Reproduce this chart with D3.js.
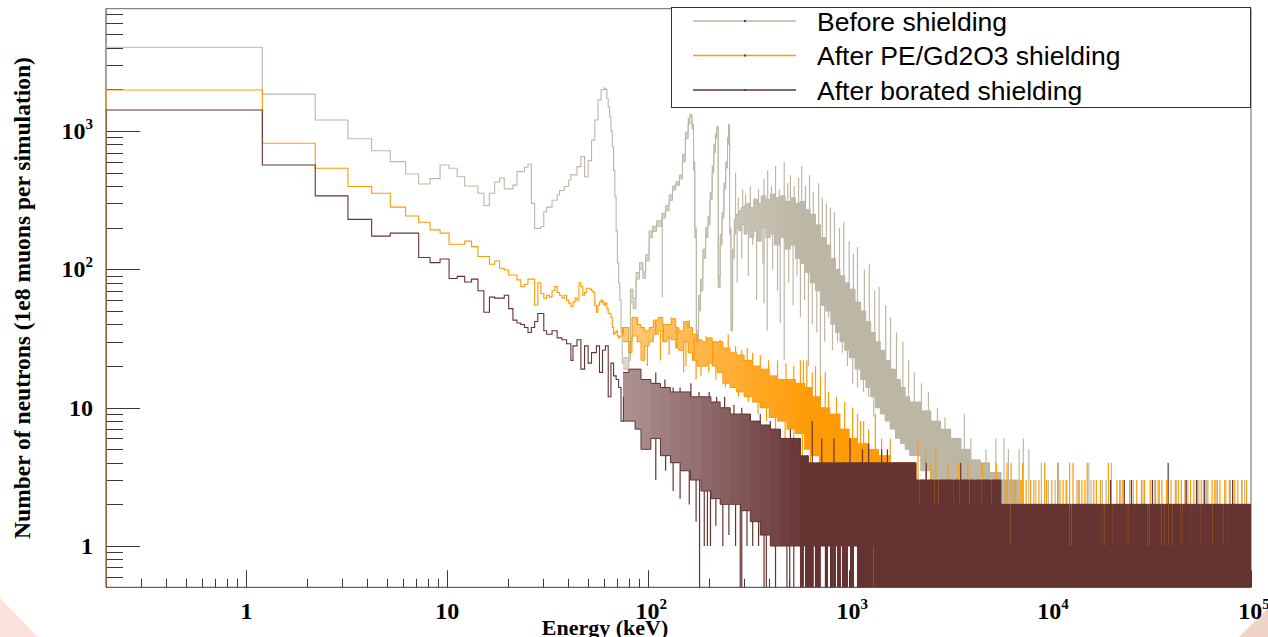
<!DOCTYPE html>
<html>
<head>
<meta charset="utf-8">
<script src="https://cdn.jsdelivr.net/npm/d3@7"></script>
<style>
  html, body { margin: 0; padding: 0; background: #ffffff; }
  svg { display: block; }
</style>
</head>
<body>
<svg id="chart" width="1268" height="637"></svg>
<script>
// ---------------------------------------------------------------------------
// Neutron energy spectra, before and after two shielding configurations.
// ---------------------------------------------------------------------------

// Low-energy part of every spectrum: 1 keV wide bins starting at 0.2 keV.
const binStart = 0.2;
const binWidth = 1;

const seriesNames = ["Before shielding", "After PE/Gd2O3 shielding", "After borated shielding"];

const beforeLow = [
  4035, 1850, 1203, 881, 721, 601, 490, 414, 453, 569,
  538, 467, 401, 401, 355, 290, 355, 428, 458, 382,
  382, 407, 509, 509, 547, 578, 300, 198, 198, 204,
  261, 282, 282, 316, 316, 345, 372, 372, 397, 397,
  443, 482, 482, 482, 553, 553, 655, 655, 467, 467,
  612, 612, 860, 860, 1203, 1203, 1680, 1680, 1988, 1988,
  2050, 2000, 1720, 1500, 1270, 1000, 770, 520, 336, 190,
  111, 80, 60, 35, 21
];
const peLow = [
  1983, 816, 538, 397, 355, 282, 243, 219, 193, 183,
  152, 152, 160, 146, 124, 124, 109, 115, 102, 99,
  91, 91, 84, 75, 78, 85, 85, 55, 80, 67,
  62, 65, 63, 70, 75, 68, 65, 62, 65, 60,
  57, 54, 58, 62, 60, 80, 75, 65, 68, 73,
  73, 72, 70, 68, 55, 49, 55, 58, 60, 58,
  55, 57, 52, 48, 48, 45, 38, 34, 35, 36,
  33, 32, 33, 33, 38
];
const boratedLow = [
  1422, 569, 340, 230, 174, 183, 183, 122, 112, 119,
  86, 89, 81, 85, 70, 49, 63, 62, 62, 65,
  52, 43, 41, 40, 38, 35, 38, 42, 48, 48,
  36, 34, 34, 36, 36, 32, 32, 31, 31, 29,
  29, 22, 28, 28, 31, 31, 19, 19, 28, 28,
  21, 21, 25, 25, 25, 28, 28, 18, 18, 26,
  26, 28, 28, 12, 12, 21, 21, 17, 17, 16,
  16, 14, 14, 8, 8
];

// Above 75.2 keV the bins are narrower than the drawing resolution, so each
// spectrum is given as its envelope: [energy (keV), lowest, highest count],
// every entry holding until the next one (the last one up to 1e5 keV).
const beforeBand = [
  [75.2, 19, 23], [80, 22, 28], [81.5, 58, 72], [84, 52, 62], [87, 85, 95],
  [90.5, 100, 112], [94, 86, 96], [97, 115, 128], [101, 170, 190], [105, 188, 205],
  [110, 205, 225], [117, 235, 255], [122, 265, 290], [127, 315, 345], [132, 375, 400],
  [137, 405, 430], [143, 450, 480], [148, 600, 680], [153, 880, 980], [158, 1120, 1240],
  [161, 1260, 1320], [165, 1040, 1120], [168, 520, 600], [170.5, 170, 200], [173.5, 30, 36],
  [178, 50, 65], [182, 70, 85], [187, 120, 140], [193, 170, 200], [198, 210, 240],
  [203, 320, 360], [208, 500, 560], [212, 700, 800], [216, 880, 960], [219, 1040, 1080],
  [223, 74, 90], [228, 150, 180], [233, 235, 260], [238, 380, 420], [243, 540, 600],
  [248, 800, 900], [251, 1080, 1120], [254, 180, 200], [258, 36, 44], [263, 120, 140],
  [268, 180, 230], [273, 200, 250], [282, 190, 265], [290, 210, 280], [300, 180, 290],
  [310, 200, 300], [320, 170, 280], [335, 190, 320], [350, 160, 300], [365, 200, 340],
  [385, 170, 320], [405, 180, 350], [425, 150, 330], [450, 170, 340], [480, 140, 310],
  [510, 150, 330], [540, 120, 300], [570, 110, 310], [605, 95, 270], [640, 80, 250],
  [680, 70, 210], [720, 55, 170], [765, 50, 150], [810, 40, 120], [855, 35, 100],
  [900, 30, 90], [950, 26, 80], [1000, 23, 72], [1070, 19, 58], [1140, 16, 50],
  [1210, 14, 42], [1280, 12, 35], [1350, 10, 30], [1430, 9, 26], [1510, 8, 22],
  [1600, 7, 19], [1700, 6, 16], [1800, 5.5, 14], [1900, 5, 12], [2000, 4.5, 11],
  [2270, 3.5, 9.5], [2550, 3, 8], [2850, 2.5, 7], [3200, 2, 6], [3600, 2, 5],
  [4000, 2, 4.2], [4500, 2, 4], [5000, 2, 3.4], [5700, 1, 3], [7000, 1, 2]
];
const peBand = [
  [75.2, 30, 38], [80, 25, 30], [83, 33, 45], [88, 30, 40], [92, 22, 38],
  [96, 28, 36], [101, 30, 38], [106, 34, 43], [112, 36, 45], [118, 30, 40],
  [124, 32, 40], [130, 31, 44], [137, 27, 38], [142, 26, 36], [150, 30, 42],
  [158, 25, 38], [166, 22, 34], [175, 20, 31], [185, 20, 30], [196, 21, 32],
  [208, 20, 30], [220, 18, 30], [235, 15, 27], [255, 14, 25], [275, 13, 24],
  [300, 12, 22], [330, 11, 20], [360, 10, 19], [400, 8.5, 17], [440, 8, 16],
  [490, 7, 16], [540, 6.5, 15], [600, 5, 14], [650, 4.5, 12], [720, 4, 10],
  [800, 4, 9], [900, 3, 7], [1000, 3, 6], [1100, 2.5, 5.5], [1250, 2, 5],
  [1400, 2, 4.5], [1600, 2, 4], [2150, 1, 3], [5700, 1, 2]
];
const boratedBand = [
  [75.2, 8, 18], [80, 8, 19], [86, 7, 19], [92, 5, 16], [103, 6, 15],
  [115, 4.5, 14], [129, 4, 13], [144, 3.5, 13], [162, 3, 12], [183, 2.5, 12],
  [205, 2.2, 11], [228, 2, 10], [256, 2, 9], [287, 1.8, 9], [322, 1.5, 8],
  [361, 1.2, 7.5], [405, 1, 7], [454, 1, 6], [510, 1, 6], [572, 0, 4.5],
  [592, 1, 4.5], [606, 0, 4.5], [627, 0, 4], [663, 1, 4], [679, 0, 4],
  [719, 1, 4], [761, 0, 4], [780, 1, 4], [807, 0, 4], [826, 1, 4],
  [836, 0, 4], [855, 1, 4], [875, 0, 4], [905, 1, 4], [926, 0, 4],
  [981, 1, 4], [1015, 0, 4], [1051, 1, 4], [1100, 0, 4], [1165, 1, 4],
  [1178, 0, 4], [1310, 1, 4], [1325, 0, 4], [2150, 0, 3], [2220, 0, 2],
  [2245, 0, 3], [2420, 0, 2], [2450, 0, 3], [2650, 0, 2], [2680, 0, 3],
  [2760, 0, 2], [2795, 0, 3], [3300, 0, 2], [3340, 0, 3], [3530, 0, 2],
  [3570, 0, 3], [3940, 0, 2], [3990, 0, 3], [4200, 0, 2], [4250, 0, 3],
  [4520, 0, 2], [4570, 0, 3], [5070, 0, 2], [5130, 0, 3], [5690, 0, 2],
  [6331, 0, 1], [6410, 0, 2], [9380, 0, 1], [9490, 0, 2], [10400, 0, 1],
  [10520, 0, 2], [12430, 0, 1], [12580, 0, 2], [12710, 0, 1], [12860, 0, 2],
  [18200, 0, 1], [18410, 0, 2], [18590, 0, 1], [18800, 0, 2], [19780, 0, 1],
  [20010, 0, 2], [20240, 0, 1], [20480, 0, 2], [23780, 0, 1], [24050, 0, 2],
  [24320, 0, 1], [24600, 0, 2], [26300, 0, 1], [26600, 0, 2], [30300, 0, 1],
  [30650, 0, 2], [31000, 0, 1], [31360, 0, 2], [35700, 0, 1], [36100, 0, 2],
  [36960, 0, 1], [37380, 0, 2], [38720, 0, 1], [39160, 0, 2], [40510, 0, 1],
  [40980, 0, 2], [44480, 0, 1], [44990, 0, 2], [45500, 0, 1], [46020, 0, 2],
  [49500, 0, 1], [50070, 0, 2], [51200, 0, 1], [51790, 0, 2], [53600, 0, 1],
  [54210, 0, 2], [55500, 0, 1], [56140, 0, 2], [63900, 0, 1], [64630, 0, 2],
  [72800, 0, 1], [73640, 0, 2], [76300, 0, 1], [77180, 0, 2], [84700, 0, 1],
  [85670, 0, 2], [88700, 0, 1], [89720, 0, 2], [99500, 0, 1]
];

// Single-bin excursions outside the envelope: [energy (keV), count].
const beforeSpikes = [
  [117.5, 63], [272, 500], [277, 80], [281, 330], [292, 120], [295, 380], [305, 350],
  [315, 90], [322, 400], [331, 150], [338, 330], [346, 60], [354, 380], [372, 110],
  [377, 57], [377, 450], [391, 36], [393, 520], [410, 400], [416, 100], [430, 560],
  [440, 70], [449, 380], [454, 41], [475, 22], [475, 600], [495, 420], [500, 80],
  [510, 480], [526, 55], [533, 400], [550, 90], [560, 460], [572, 45], [580, 560],
  [600, 60], [606, 400], [627, 20], [635, 480], [655, 40], [663, 360], [690, 35],
  [705, 420], [719, 17], [735, 330], [755, 30], [770, 300], [790, 45], [807, 280],
  [826, 26], [845, 260], [875, 30], [895, 200], [926, 25], [940, 220], [980, 20],
  [1000, 160], [1040, 15], [1050, 130], [1100, 145], [1100, 14], [1178, 13],
  [1190, 100], [1250, 12], [1260, 110], [1325, 8.6], [1340, 70], [1410, 75],
  [1520, 55], [1607, 45], [1720, 35], [1850, 30], [1975, 22], [2110, 18],
  [2290, 15], [2480, 13], [2750, 10], [3000, 8.5], [3740, 9], [4030, 6],
  [4800, 5], [5370, 6], [5900, 6], [6200, 5], [6300, 3], [7010, 5], [7200, 3],
  [7360, 6], [7840, 5], [8500, 3], [9050, 4], [9800, 3], [10600, 3], [11000, 4],
  [12000, 3], [13600, 3], [14000, 3], [15600, 4], [16000, 3], [18200, 3], [19000, 3],
  [20200, 4], [22500, 3], [25500, 3], [26000, 3], [29000, 3], [33000, 3], [35000, 3],
  [42500, 3], [47000, 3], [48500, 3], [55000, 3], [60000, 3], [67000, 3], [75000, 3],
  [79000, 3], [90000, 3], [93000, 3]
];
const peSpikes = [
  [88.5, 45], [99, 20], [109, 42], [115, 22], [119, 40], [127, 24], [130, 45],
  [139, 38], [150, 18], [154, 20], [160, 43], [169, 32], [173, 16], [183, 17],
  [194, 33], [200, 18], [209, 30], [217, 16], [228, 31], [242, 14], [250, 34],
  [272, 28], [281, 12], [292, 26], [311, 27], [315, 11], [331, 25], [352, 9],
  [361, 24], [388, 8], [397, 22], [430, 7], [440, 22], [480, 6], [485, 21],
  [530, 20], [530, 5], [572, 22], [585, 4.5], [592, 22], [615, 22], [641, 4],
  [655, 18], [680, 20], [712, 3.5], [719, 17], [760, 18], [790, 13], [865, 12],
  [950, 11], [1040, 10], [1100, 9], [1139, 8], [1180, 8], [1250, 7], [1350, 9],
  [1450, 6], [1600, 6], [2200, 5.8], [2400, 5], [2550, 4], [2700, 5], [3100, 4],
  [3500, 4], [3900, 4], [4600, 4], [5400, 4], [6000, 3], [6100, 4], [6400, 4],
  [6600, 3], [6700, 3], [7100, 3], [7300, 4], [7600, 3], [8000, 3], [8300, 3],
  [8800, 3], [9400, 4], [9600, 3], [10200, 3], [10900, 4], [11200, 3], [11600, 3],
  [12100, 3], [12500, 4], [13000, 4], [13800, 3], [14400, 3], [14900, 3], [15300, 4],
  [16500, 3], [17000, 3], [17800, 3], [19500, 4], [20000, 3], [21500, 3], [22200, 3],
  [23000, 3], [24900, 3], [27000, 3], [28500, 3], [29500, 3], [31500, 3], [33500, 3],
  [34500, 3], [36000, 3], [38000, 3], [40000, 3], [42000, 3], [43500, 3], [45000, 3],
  [47000, 3], [50000, 3], [52000, 3], [54000, 3], [56500, 3], [58000, 3], [61000, 3],
  [64000, 3], [66000, 3], [68000, 3], [70000, 3], [74000, 3], [78000, 3], [81000, 3],
  [83000, 3], [86000, 3], [90000, 3], [95000, 3]
];
const boratedSpikes = [
  [109, 3], [109, 18], [121, 16], [122, 3.5], [133, 2.5], [133, 14], [144, 2.2],
  [144, 14], [160, 2], [163, 15], [173, 1.5], [179, 13], [180, 0], [190, 1],
  [197, 1], [201, 13], [204, 1], [217, 1.4], [219, 12], [235, 1], [240, 12],
  [252, 1.2], [267, 10.5], [272, 1], [287, 0], [292, 0], [292, 10], [310, 1],
  [322, 9], [331, 1], [354, 1], [361, 9], [377, 0], [387, 0], [405, 8],
  [430, 0], [454, 7], [460, 1], [490, 0], [506, 0], [510, 7], [530, 0],
  [572, 6], [655, 8], [730, 6], [840, 6], [1010, 6], [1165, 5], [1250, 5.5],
  [1450, 5], [1550, 5], [2420, 4], [3590, 4], [20000, 3], [23400, 3], [25400, 3],
  [32300, 3], [38700, 4], [47600, 3], [53600, 3], [58800, 3], [81000, 3]
];

// Axis ticks
const xDecades = [1, 10, 100, 1000, 10000, 100000];
const yDecades = [1, 10, 100, 1000];

// ---------------------------------------------------------------------------
const series = [
  { name: seriesNames[0], low: beforeLow, band: beforeBand, spikes: beforeSpikes, color: "#bcb7a5" },
  { name: seriesNames[1], low: peLow, band: peBand, spikes: peSpikes, color: "#ff9b05" },
  { name: seriesNames[2], low: boratedLow, band: boratedBand, spikes: boratedSpikes, color: "#663333" }
];

const frame = { left: 106, right: 1251, top: 8.7, bottom: 587.3 };
const xMax = 1e5;

const x = d3.scaleLog().domain([0.2, xMax]).range([frame.left, frame.right]);
const y = d3.scaleLog().domain([0.503, 7670]).range([frame.bottom, frame.top]);
// empty bins fall below the frame and are clipped away
const yv = v => (v > 0 ? y(v) : frame.bottom + 40);

// How densely the fine bins cover their envelope: about one bin per pixel
// near 80 keV (a jagged line with gaps), many bins per pixel above ~0.6 MeV.
const coverage = e => Math.max(0.55, Math.min(1, 0.55 + 0.45 * Math.log10(e / 80) / Math.log10(7.5)));

const svg = d3.select("#chart");

// slide decoration in the lower corners
svg.append("polygon").attr("points", "0,598 0,637 38,637").attr("fill", "#fbe3dc");
svg.append("polygon").attr("points", "1268,608 1268,637 1239,637").attr("fill", "#f1d3c7");

// ---- axes (drawn first; the histograms overlay them) ----
const axisColor = "#3a3a3a";
const axes = svg.append("g").attr("stroke", axisColor).attr("stroke-width", 1).attr("fill", "none");

axes.append("line").attr("x1", frame.left).attr("x2", frame.right)
  .attr("y1", frame.top).attr("y2", frame.top).attr("stroke", "#666");
axes.append("line").attr("x1", frame.right).attr("x2", frame.right)
  .attr("y1", frame.top).attr("y2", frame.bottom).attr("stroke", "#666");
axes.append("line").attr("x1", frame.left).attr("x2", frame.right)
  .attr("y1", frame.bottom).attr("y2", frame.bottom);
axes.append("line").attr("x1", frame.left).attr("x2", frame.left)
  .attr("y1", frame.top).attr("y2", frame.bottom);

// x ticks: decades long, 2..9 short
const xMinor = [];
[0.1, 1, 10, 100, 1000, 10000].forEach(d => {
  for (let k = 2; k <= 9; k++) {
    const v = d * k;
    if (v >= 0.2 && v <= xMax) xMinor.push(v);
  }
});
xMinor.forEach(v => {
  const px = Math.round(x(v)) + 0.5;
  axes.append("line").attr("x1", px).attr("x2", px)
    .attr("y1", frame.bottom).attr("y2", frame.bottom - 8.5);
});
xDecades.forEach(v => {
  const px = Math.round(x(v)) + 0.5;
  axes.append("line").attr("x1", px).attr("x2", px)
    .attr("y1", frame.bottom).attr("y2", frame.bottom - 17);
});

// y ticks
const yMinor = [];
[0.1, 1, 10, 100, 1000].forEach(d => {
  for (let k = 2; k <= 9; k++) {
    const v = d * k;
    if (v >= 0.503 && v <= 7670) yMinor.push(v);
  }
});
yMinor.forEach(v => {
  const py = Math.round(y(v)) + 0.5;
  axes.append("line").attr("x1", frame.left).attr("x2", frame.left + 17)
    .attr("y1", py).attr("y2", py);
});
yDecades.forEach(v => {
  const py = Math.round(y(v)) + 0.5;
  axes.append("line").attr("x1", frame.left).attr("x2", frame.left + 34)
    .attr("y1", py).attr("y2", py);
});

// ---- tick labels and titles ----
const serif = "'Liberation Serif', 'Times New Roman', serif";
const labels = svg.append("g").attr("font-family", serif).attr("font-weight", "bold").attr("fill", "#000");

function powerLabel(sel, v) {
  const e = Math.round(Math.log10(v));
  if (e === 0) sel.text("1");
  else if (e === 1) sel.text("10");
  else {
    sel.append("tspan").text("10");
    sel.append("tspan").attr("dy", -10).attr("font-size", 15).text(String(e));
  }
}

xDecades.forEach(v => {
  const t = labels.append("text")
    .attr("x", x(v) + (v >= 100 ? 3 : 0)).attr("y", 619)
    .attr("font-size", 24).attr("text-anchor", "middle");
  powerLabel(t, v);
});
yDecades.forEach(v => {
  const t = labels.append("text")
    .attr("x", 93).attr("y", y(v) + 8)
    .attr("font-size", 24).attr("text-anchor", "end");
  powerLabel(t, v);
});

labels.append("text")
  .attr("transform", "translate(30,298) rotate(-90)")
  .attr("text-anchor", "middle").attr("font-size", 23.5)
  .text("Number of neutrons (1e8 muons per simulation)");
labels.append("text")
  .attr("x", 605).attr("y", 635).attr("text-anchor", "middle").attr("font-size", 22)
  .text("Energy (keV)");

// ---- histograms ----
svg.append("clipPath").attr("id", "plotClip").append("rect")
  .attr("x", frame.left).attr("y", frame.top)
  .attr("width", frame.right - frame.left).attr("height", frame.bottom - frame.top);
const plot = svg.append("g").attr("clip-path", "url(#plotClip)");

const stepLine = d3.line().x(d => x(d[0])).y(d => yv(d[1])).curve(d3.curveStepAfter);

series.forEach(s => {
  const g = plot.append("g");

  // step line through the 1 keV bins, joined to the start of the envelope
  let d = `M${x(binStart)},${frame.bottom}`;
  s.low.forEach((v, i) => {
    d += `V${yv(v)}H${x(binStart + (i + 1) * binWidth)}`;
  });
  const first = s.band[0];
  d += `V${(yv(first[1]) + yv(first[2])) / 2}`;
  g.append("path").attr("d", d)
    .attr("fill", "none").attr("stroke", s.color).attr("stroke-width", 1.1);

  // envelope of the fine bins: one block per entry, shaded by bin density
  const ends = s.band.slice(1).map(b => b[0]).concat([xMax]);
  g.selectAll("rect.env").data(s.band).join("rect")
    .attr("class", "env")
    .attr("x", d => x(d[0]))
    .attr("width", (d, i) => x(ends[i]) - x(d[0]))
    .attr("y", d => yv(d[2]))
    .attr("height", d => Math.max(0, yv(d[1]) - yv(d[2])))
    .attr("fill", s.color)
    .attr("fill-opacity", d => coverage(d[0]))
    .attr("shape-rendering", "crispEdges");

  // upper and lower edges of the envelope
  const last = s.band[s.band.length - 1];
  const hiPts = s.band.map(b => [b[0], b[2]]).concat([[xMax, last[2]]]);
  const loPts = s.band.map(b => [b[0], b[1]]).concat([[xMax, last[1]]]);
  g.append("path").attr("d", stepLine(hiPts))
    .attr("fill", "none").attr("stroke", s.color).attr("stroke-width", 1);
  g.append("path").attr("d", stepLine(loPts))
    .attr("fill", "none").attr("stroke", s.color).attr("stroke-width", 1);

  // isolated excursions
  const bandAt = e => {
    let cur = s.band[0];
    for (const b of s.band) { if (b[0] <= e) cur = b; else break; }
    return cur;
  };
  s.spikes.forEach(([e, v]) => {
    const b = bandAt(e);
    const edge = v > b[2] ? b[2] : b[1];
    g.append("line")
      .attr("x1", x(e)).attr("x2", x(e))
      .attr("y1", yv(edge)).attr("y2", yv(v))
      .attr("stroke", s.color).attr("stroke-width", 1.2);
  });
});

// ---- legend ----
const legend = svg.append("g");
legend.append("rect")
  .attr("x", 671.5).attr("y", 7.5).attr("width", 579).attr("height", 100)
  .attr("fill", "#ffffff").attr("stroke", "#333").attr("stroke-width", 1);
const legendRows = d3.scalePoint().domain(series.map(s => s.name)).range([21, 90]);
series.forEach(s => {
  const cy = legendRows(s.name);
  legend.append("line").attr("x1", 693).attr("x2", 796)
    .attr("y1", cy).attr("y2", cy).attr("stroke", s.color).attr("stroke-width", 1.3);
  legend.append("rect").attr("x", 744).attr("y", cy - 1).attr("width", 2).attr("height", 2)
    .attr("fill", "#444");
  legend.append("text").attr("x", 817).attr("y", cy + 9.5)
    .attr("font-family", "'Liberation Sans', Arial, sans-serif").attr("font-size", 26.5)
    .attr("fill", "#000").text(s.name);
});
</script>
</body>
</html>
